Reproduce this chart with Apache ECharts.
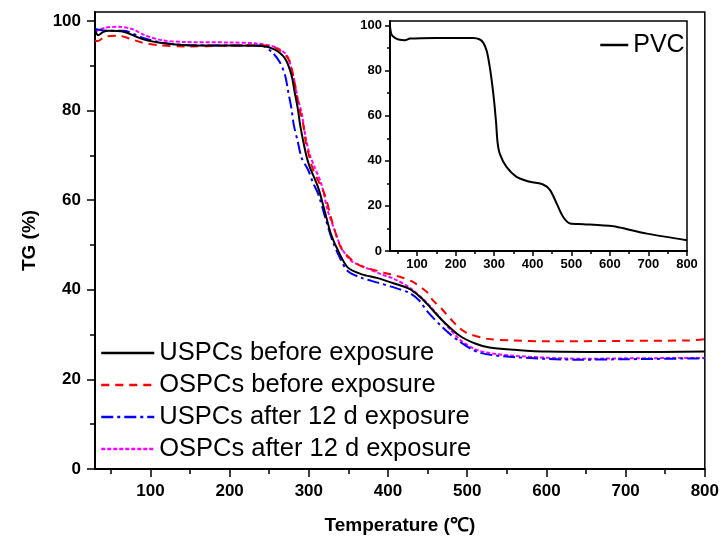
<!DOCTYPE html>
<html>
<head>
<meta charset="utf-8">
<script src="https://cdn.jsdelivr.net/npm/echarts@6/dist/echarts.min.js"></script>
<style>
  html, body { margin: 0; padding: 0; background: #fff; }
  #chart { width: 722px; height: 542px; }
</style>
</head>
<body>
<div id="chart"></div>
<script>
// main TG curves: temperature (℃) and mass (%)
var uspcBeforeT = [30, 34, 40, 47, 66, 89, 110, 135, 165, 200, 240, 257, 270, 278, 282, 286, 289, 293, 297, 301, 312, 320, 328, 337, 349, 366, 387, 408, 427, 440, 449, 469, 490, 510, 528, 560, 600, 700, 800];
var uspcBeforeTG = [98, 96.8, 97.5, 97.8, 97.6, 96, 95.2, 94.7, 94.5, 94.5, 94.4, 93.6, 91.6, 88, 84.2, 80.5, 76.8, 73.1, 69.8, 67.5, 62.7, 57.6, 52.4, 48.7, 45, 43.5, 42.6, 41.4, 40.2, 38.5, 36.9, 33.1, 29.8, 28, 27.1, 26.6, 26.2, 26.1, 26.2];

var ospcBeforeT = [30, 35, 43, 60, 73, 89, 110, 144, 200, 240, 258, 274, 280, 284, 288, 293, 296, 301, 305, 310, 320, 328, 337, 343, 358, 370, 387, 395, 413, 431, 449, 456, 469, 481, 490, 499, 524, 557, 600, 700, 780, 800];
var ospcBeforeTG = [95.5, 95.6, 96.5, 96.7, 96.1, 95.2, 94.6, 94.3, 94.5, 94.6, 94, 91.6, 88, 84.2, 80.5, 76.8, 73.1, 69.4, 67, 65, 61.3, 56.1, 50.9, 48.7, 46.1, 45, 44.2, 43.8, 43, 41.8, 39.5, 37.8, 35.5, 33.1, 31.5, 30.4, 29.1, 28.7, 28.5, 28.6, 28.7, 29];

var uspcAfterT = [30, 47, 66, 89, 110, 130, 150, 200, 240, 253, 263, 270, 274, 278, 281, 286, 291, 299, 305, 312, 322, 330, 339, 349, 366, 387, 404, 427, 440, 449, 469, 490, 515, 557, 642, 700, 800];
var uspcAfterTG = [98.2, 97.8, 97.8, 96.3, 95.3, 94.8, 94.6, 94.5, 94.5, 93.1, 90.9, 87.9, 84.2, 80.5, 76.8, 73.1, 69.4, 66.8, 64, 61.3, 55.3, 50.9, 47.2, 44.2, 42.7, 41.6, 40.7, 39.3, 37.5, 35.3, 31.6, 28.5, 26, 25, 24.4, 24.5, 24.7];

var ospcAfterT = [30, 43, 60, 77, 93, 115, 144, 200, 232, 257, 272, 278, 282, 286, 291, 294, 297, 301, 307, 316, 324, 333, 341, 354, 371, 391, 408, 427, 449, 490, 515, 557, 650, 700, 800];
var ospcAfterTG = [97.6, 98.5, 98.7, 98.2, 96.8, 95.7, 95.3, 95.2, 95, 94.2, 92.4, 89.4, 86.4, 82.7, 79.4, 76.1, 73.1, 70.2, 67.5, 63.5, 57.6, 53.1, 49.4, 46.4, 45, 43.5, 42.4, 40.5, 37.1, 29, 26.4, 25.3, 24.6, 24.7, 24.8];

// inset: pure PVC
var pvcT = [30, 34, 43, 52, 69, 82, 147, 246, 263, 272, 281, 289, 295, 300, 305, 309, 315, 332, 358, 393, 427, 445, 462, 479, 497, 531, 609, 626, 696, 800];
var pvcTG = [99.7, 96, 94.5, 93.8, 93.5, 94.2, 94.5, 94.5, 93.8, 92.3, 88.6, 81.2, 73.8, 66.4, 57, 48, 43, 37.3, 32.9, 30.7, 29.5, 27, 21.1, 15.1, 12.2, 11.9, 11, 10.4, 7.7, 4.8];

var xMajor = [100, 200, 300, 400, 500, 600, 700, 800];
var xMinor = [50, 150, 250, 350, 450, 550, 650, 750];
var yMajor = [0, 20, 40, 60, 80, 100];
var yMinor = [10, 30, 50, 70, 90];

var seriesNames = ['USPCs before exposure', 'OSPCs before exposure', 'USPCs after 12 d exposure', 'OSPCs after 12 d exposure'];

function pairs(xs, ys) {
  return xs.map(function (x, i) { return [x, ys[i]]; });
}

var font = 'Liberation Sans, Arial, sans-serif';

function majorX(grid, size, margin, len, name) {
  return {
    gridIndex: grid, type: 'value', min: 30, max: 800, position: 'bottom',
    axisLine: { lineStyle: { color: '#000', width: 2 } },
    axisTick: { customValues: xMajor, length: len, lineStyle: { color: '#000', width: 1.5 } },
    axisLabel: { customValues: xMajor, color: '#000', fontWeight: 'bold', fontSize: size, fontFamily: font, margin: margin },
    splitLine: { show: false },
    name: name || '', nameLocation: 'middle', nameGap: 47,
    nameTextStyle: { color: '#000', fontWeight: 'bold', fontSize: 19, fontFamily: font }
  };
}
function minorX(grid, len) {
  return {
    gridIndex: grid, type: 'value', min: 30, max: 800, position: 'bottom',
    axisLine: { show: false },
    axisTick: { customValues: xMinor, length: len, lineStyle: { color: '#000', width: 1.5 } },
    axisLabel: { show: false }, splitLine: { show: false }
  };
}
function majorY(grid, size, margin, len, name) {
  return {
    gridIndex: grid, type: 'value', min: 0, max: 102, position: 'left',
    axisLine: { show: true, lineStyle: { color: '#000', width: 2 } },
    axisTick: { show: true, customValues: yMajor, length: len, lineStyle: { color: '#000', width: 1.5 } },
    axisLabel: { customValues: yMajor, color: '#000', fontWeight: 'bold', fontSize: size, fontFamily: font, margin: margin },
    splitLine: { show: false },
    name: name || '', nameLocation: 'middle', nameGap: 56,
    nameTextStyle: { color: '#000', fontWeight: 'bold', fontSize: 19, fontFamily: font }
  };
}
function minorY(grid, len) {
  return {
    gridIndex: grid, type: 'value', min: 0, max: 102, position: 'left',
    axisLine: { show: false },
    axisTick: { show: true, customValues: yMinor, length: len, lineStyle: { color: '#000', width: 1.5 } },
    axisLabel: { show: false }, splitLine: { show: false }
  };
}

var chart = echarts.init(document.getElementById('chart'), null, { renderer: 'canvas' });

var lineTypes = ['solid', [8, 6], [12, 4, 3, 4], [4, 2]];
var colors = ['#000000', '#ff0000', '#0000ff', '#ff00ff'];
var mainData = [
  pairs(uspcBeforeT, uspcBeforeTG),
  pairs(ospcBeforeT, ospcBeforeTG),
  pairs(uspcAfterT, uspcAfterTG),
  pairs(ospcAfterT, ospcAfterTG)
];

var series = seriesNames.map(function (n, i) {
  return {
    name: n, type: 'line', xAxisIndex: 0, yAxisIndex: 0,
    data: mainData[i], showSymbol: false, symbol: 'none', smooth: 0.3,
    z: 10 - i,
    lineStyle: { color: colors[i], width: 2, type: lineTypes[i] },
    itemStyle: { color: colors[i] }
  };
});
series.push({
  name: 'PVC', type: 'line', xAxisIndex: 2, yAxisIndex: 2,
  data: pairs(pvcT, pvcTG), showSymbol: false, symbol: 'none', smooth: 0.3,
  lineStyle: { color: '#000', width: 2 }, itemStyle: { color: '#000' }
});

var option = {
  backgroundColor: '#fff',
  animation: false,
  grid: [
    { left: 95, right: 16, top: 12, bottom: 73, show: true, borderColor: '#000', borderWidth: 1.5 },
    { left: 390, right: 35, top: 21, bottom: 291, show: true, borderColor: '#000', borderWidth: 1.5, backgroundColor: '#fff' }
  ],
  xAxis: [
    majorX(0, 17, 14, 8, 'Temperature (℃)'),
    minorX(0, 5),
    majorX(1, 13, 7, 5),
    minorX(1, 3)
  ],
  yAxis: [
    majorY(0, 17, 14, 8, 'TG (%)'),
    minorY(0, 5),
    majorY(1, 13, 8, 5),
    minorY(1, 3)
  ],
  legend: [
    {
      data: seriesNames, orient: 'vertical', left: 100, top: 340, padding: 0,
      itemWidth: 53, itemHeight: 14, itemGap: 6,
      itemStyle: { opacity: 0 },
      lineStyle: { width: 2.5 },
      textStyle: { color: '#000', fontSize: 25.5, lineHeight: 26, fontFamily: font }
    },
    {
      data: ['PVC'], orient: 'vertical', left: 599, top: 32, padding: 0,
      itemWidth: 28, itemHeight: 14, itemGap: 4,
      itemStyle: { opacity: 0 },
      lineStyle: { width: 2.5 },
      textStyle: { color: '#000', fontSize: 25, lineHeight: 26, fontFamily: font }
    }
  ],
  series: series
};

chart.setOption(option);
</script>
</body>
</html>
